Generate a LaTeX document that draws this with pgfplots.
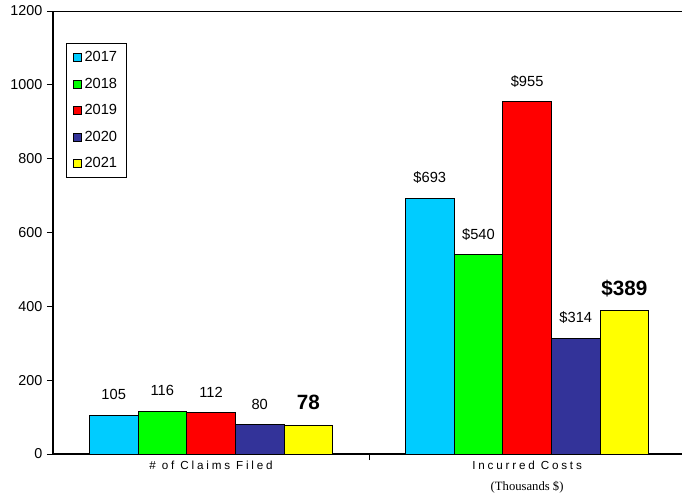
\documentclass[border=0pt]{standalone}
\usepackage{fontspec}
\setmainfont{Liberation Sans}
\newfontfamily\timesfont{Liberation Serif}
\usepackage{pgfplots}
\pgfplotsset{compat=1.18}

\definecolor{c17}{HTML}{00CCFF}
\definecolor{c18}{HTML}{00FF00}
\definecolor{c19}{HTML}{FF0000}
\definecolor{c20}{HTML}{333399}
\definecolor{c21}{HTML}{FFFF00}

\pgfplotsset{
  barstyle/.style={fill=#1, draw=black, line width=0.75pt,
    legend image code/.code={\draw[fill=#1, draw=black, line width=0.5pt] (0pt,-3pt) rectangle (6pt,3pt);}},
}

\begin{document}
\begin{tikzpicture}
\useasboundingbox (-39.75pt,-32.25pt) rectangle (471.75pt,340.5pt);
\begin{axis}[
    at={(0pt,0pt)}, anchor=south west,
    scale only axis,
    width=471.75pt, height=332.25pt,
    ybar=0pt, bar width=0.154,
    xmin=-0.5, xmax=1.49,
    ymin=0, ymax=1200,
    ytick={0,200,400,600,800,1000,1200},
    axis lines*=left,
    axis line style={line width=1.1pt},
    tick align=outside,
    major tick length=4.5pt,
    tick style={black, line width=0.75pt},
    xtick={0.5}, xticklabels={},
    extra x ticks={0,1},
    extra x tick labels={{\addfontfeature{LetterSpace=24}\# of Claims Filed},
        {\addfontfeature{LetterSpace=24}Incurred Costs\\[5.5pt]\timesfont\fontsize{9.5}{10}\selectfont(Thousands \$)}},
    extra x tick style={major tick length=0pt,
        tick label style={align=center, font=\fontsize{8.75}{10}\selectfont, yshift=-2pt}},
    yticklabel style={font=\fontsize{10.75}{12}\selectfont},
    /pgf/number format/assume math mode=true,
    /pgf/number format/1000 sep={},
    point meta=explicit symbolic,
    nodes near coords,
    every node near coord/.append style={anchor=base, inner sep=0pt, yshift=11.5pt,
        font=\fontsize{11}{12}\selectfont, text=black},
    legend style={at={(0.0207,0.928)}, anchor=north west,
        draw=black, line width=0.75pt, fill=white,
        font=\fontsize{11}{12}\selectfont,
        row sep=6.75pt, inner xsep=5pt, inner ysep=4pt,
        /tikz/every odd column/.append style={column sep=0pt}},
    legend cell align=left,
]
\addplot[barstyle=c17] coordinates {(0,105) [105] (1,693) [\$693]};
\addplot[barstyle=c18] coordinates {(0,116) [116] (1,540) [\$540]};
\addplot[barstyle=c19] coordinates {(0,112) [112] (1,955) [\$955]};
\addplot[barstyle=c20] coordinates {(0,80) [80] (1,314) [\$314]};
\addplot[barstyle=c21, every node near coord/.append style={font=\bfseries\fontsize{15.5}{17}\selectfont}]
    coordinates {(0,78) [78] (1,389) [\$389]};
\legend{2017,2018,2019,2020,2021}
\draw[line width=1.1pt] (rel axis cs:0,1) -- (rel axis cs:1,1);
\end{axis}
\end{tikzpicture}
\end{document}
